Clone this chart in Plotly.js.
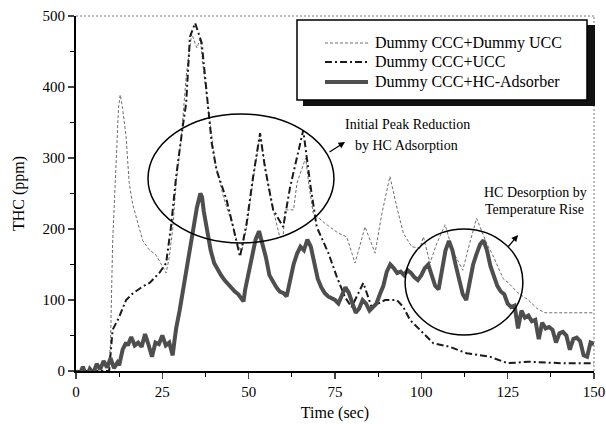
<!DOCTYPE html>
<html>
<head>
<meta charset="utf-8">
<script src="https://cdn.plot.ly/plotly-3.0.1.min.js"></script>
<style>html,body{margin:0;padding:0;background:#fff}#chart{width:606px;height:424px}</style>
</head>
<body>
<div id="chart"></div>
<script>
// Series names
var seriesNames = ["Dummy CCC+Dummy UCC", "Dummy CCC+UCC", "Dummy CCC+HC-Adsorber"];

// Dummy CCC + Dummy UCC (thin dotted)
var dummyX = [0, 5, 9, 9.5, 10, 10.6, 11.6, 12.3, 12.8, 13.5, 14.5, 15.4, 16.4, 17.4, 19.3, 21, 23.2, 25.1, 26.1, 27, 28, 29, 30.5, 32, 33.5, 35, 36, 37, 38.8, 40.3, 42.7, 45.5, 47, 48, 49.5, 51.3, 53.3, 54.7, 56.2, 59, 60, 60.5, 63, 64, 66.5, 67.5, 68.7, 72.1, 76, 78.4, 80.8, 83.7, 86.6, 88.5, 90.9, 92.9, 94.8, 97.2, 99.6, 100.6, 102.5, 104.5, 106.9, 109, 112, 114, 116, 118.9, 121, 123.7, 125, 128, 131, 133.5, 135.8, 150];
var dummyY = [0, 0, 0, 2, 40, 180, 287, 370, 389, 370, 330, 265, 235, 217, 184, 172, 163, 147, 138, 160, 200, 265, 330, 420, 475, 455, 468, 420, 349, 293, 245, 203, 175, 170, 205, 270, 332, 290, 245, 189, 190, 227, 227, 265, 300, 260, 222, 208, 194, 189, 152, 203, 166, 220, 274, 231, 194, 175, 173, 189, 152, 180, 206, 170, 142, 180, 215, 180, 160, 130, 125, 110, 100, 88, 82, 82];

// Dummy CCC + UCC (dash-dot)
var uccX = [0, 5, 9.6, 10.6, 12.5, 14.5, 16.4, 19.3, 21.3, 24.1, 26.1, 27.5, 29, 30.9, 31.9, 33, 34.5, 36.4, 37.8, 39.3, 40.7, 43.6, 45.5, 47.5, 49.4, 51.3, 53.3, 54.7, 57.1, 60, 62, 65.8, 67.8, 69.7, 73.1, 75.5, 77.9, 79.8, 83.2, 85.6, 89.5, 92.9, 94.8, 96.7, 100.6, 103.5, 108.3, 113.1, 119.9, 125, 131, 140.7, 150];
var uccY = [0, 0, 0, 58, 76, 100, 109, 119, 124, 138, 152, 203, 274, 344, 377, 471, 490, 462, 391, 321, 283, 241, 203, 161, 208, 274, 335, 287, 227, 203, 259, 339, 264, 203, 166, 133, 104, 90, 124, 90, 100, 100, 90, 72, 53, 39, 34, 25, 20, 11, 13, 11, 11];

// Dummy CCC + HC-Adsorber (noisy thick)
var hcX = [0, 1, 2, 3, 4, 5, 6, 7, 8, 9, 10, 11, 12, 12.5, 13.5, 14.5, 15, 16, 17, 18, 19, 20, 21, 22, 23, 24, 25, 26, 27, 28, 28.5, 29, 30, 31, 32, 33, 34, 35, 36, 36.5, 37, 38, 39, 40, 41, 42, 43, 44, 45, 46, 47, 48, 48.5, 49, 50, 51, 52, 53, 54, 55, 56, 57, 58, 59, 60, 61, 62, 63, 64, 65, 66, 67, 68, 69, 70, 71, 72, 73, 74, 75, 76, 77, 78, 79, 80, 81, 82, 83, 84, 85, 86, 87, 88, 89, 90, 91, 92, 93, 94, 95, 96, 97, 98, 99, 100, 101, 102, 103, 104, 105, 106, 107, 108, 109, 110, 111, 112, 113, 114, 115, 116, 117, 118, 119, 120, 121, 122, 123, 124, 125, 126, 127, 128, 129, 130, 131, 132, 133, 134, 135, 136, 137, 138, 139, 140, 141, 142, 143, 144, 145, 146, 147, 148, 149, 150];
var hcY = [0, -5, 6, -8, 3, -3, 10, 2, 14, 5, 18, 4, 12, 8, 30, 40, 36, 48, 36, 40, 34, 52, 37, 20, 40, 38, 50, 36, 40, 22, 42, 60, 85, 115, 145, 175, 205, 230, 250, 245, 225, 195, 170, 152, 142, 135, 128, 122, 118, 112, 108, 100, 98, 115, 140, 160, 185, 197, 180, 160, 135, 125, 118, 112, 110, 105, 130, 150, 165, 175, 170, 185, 175, 155, 130, 118, 110, 105, 102, 100, 95, 105, 118, 110, 95, 82, 88, 100, 95, 85, 90, 95, 108, 120, 140, 150, 145, 138, 140, 135, 142, 138, 132, 128, 135, 145, 150, 135, 120, 115, 140, 170, 183, 170, 148, 125, 108, 100, 125, 150, 165, 178, 184, 170, 148, 135, 120, 112, 108, 95, 90, 92, 60, 85, 75, 78, 70, 72, 45, 68, 60, 62, 58, 40, 53, 55, 50, 30, 45, 47, 42, 22, 20, 40, 38];

// Axis ticks
var xTicks = [0, 25, 50, 75, 100, 125, 150];
var yTicks = [0, 100, 200, 300, 400, 500];

var serif = "'Liberation Serif', 'Times New Roman', serif";

var lineStyles = [
  {color: "#6e6e6e", width: 1, dash: "3px,2px"},
  {color: "#1a1a1a", width: 2, dash: "7px,3px,2px,3px"},
  {color: "#4e4e4e", width: 4}
];

var traces = [
  {x: dummyX, y: dummyY, name: seriesNames[0], type: "scatter", mode: "lines", line: lineStyles[0]},
  {x: uccX, y: uccY, name: seriesNames[1], type: "scatter", mode: "lines", line: lineStyles[1]},
  {x: hcX, y: hcY, name: seriesNames[2], type: "scatter", mode: "lines", line: lineStyles[2]}
];

function px2paperX(p) { return (p - 76) / 518; }
function px2paperY(p) { return (371 - p) / 355; }

var shapes = [
  // dotted top and right frame
  {type: "line", xref: "paper", yref: "paper", x0: 0, x1: 1, y0: 1, y1: 1,
   line: {color: "#777", width: 1, dash: "2px,2px"}},
  {type: "line", xref: "paper", yref: "paper", x0: 1, x1: 1, y0: 0, y1: 1,
   line: {color: "#777", width: 1, dash: "2px,2px"}},
  // legend shadow
  {type: "rect", xref: "paper", yref: "paper", layer: "above",
   x0: px2paperX(303), x1: px2paperX(595), y0: px2paperY(106), y1: px2paperY(25),
   fillcolor: "#111", line: {width: 0}},
  // legend box
  {type: "rect", xref: "paper", yref: "paper", layer: "above",
   x0: px2paperX(297), x1: px2paperX(587), y0: px2paperY(100), y1: px2paperY(20),
   fillcolor: "#fff", line: {color: "#000", width: 1.5}},
  // ellipses
  {type: "circle", xref: "x", yref: "y", x0: 20.85, x1: 74.7, y0: 180.3, y1: 362,
   line: {color: "#000", width: 1.5}},
  {type: "circle", xref: "x", yref: "y", x0: 95.3, x1: 129.4, y0: 50.7, y1: 200,
   line: {color: "#000", width: 1.5}}
];

var annotations = [
  {x: 77.9, y: 322.5, xref: "x", yref: "y", text: "", showarrow: true, arrowhead: 2,
   arrowsize: 1, arrowwidth: 1.3, ax: -17, ay: 11, arrowcolor: "#000"},
  {x: 128.0, y: 191.5, xref: "x", yref: "y", text: "", showarrow: true, arrowhead: 2,
   arrowsize: 1, arrowwidth: 1.3, ax: -11, ay: 13, arrowcolor: "#000"},
  {x: 96.0, y: 346.5, xref: "x", yref: "y", text: "Initial Peak Reduction",
   showarrow: false, font: {family: serif, size: 14, color: "#000"}},
  {x: 95.8, y: 318.3, xref: "x", yref: "y", text: "by HC Adsorption",
   showarrow: false, font: {family: serif, size: 14, color: "#000"}},
  {x: 133.1, y: 252.1, xref: "x", yref: "y", text: "HC Desorption by",
   showarrow: false, font: {family: serif, size: 14, color: "#000"}},
  {x: 132.9, y: 226.8, xref: "x", yref: "y", text: "Temperature Rise",
   showarrow: false, font: {family: serif, size: 14, color: "#000"}}
];

// hand-drawn legend (box, samples, labels)
var legendRows = [43, 62, 82];
for (var i = 0; i < 3; i++) {
  shapes.push({type: "line", xref: "paper", yref: "paper", layer: "above",
    x0: px2paperX(325), x1: px2paperX(368), y0: px2paperY(legendRows[i]), y1: px2paperY(legendRows[i]),
    line: lineStyles[i]});
  annotations.push({xref: "paper", yref: "paper", x: px2paperX(373), y: px2paperY(legendRows[i]),
    xanchor: "left", yanchor: "middle", text: seriesNames[i], showarrow: false,
    font: {family: serif, size: 16, color: "#000"}});
}

var layout = {
  width: 606, height: 424,
  margin: {l: 76, r: 12, t: 16, b: 53},
  paper_bgcolor: "#fff", plot_bgcolor: "#fff",
  font: {family: serif, size: 15, color: "#000"},
  showlegend: false,
  xaxis: {
    range: [0, 150], tickvals: xTicks, ticks: "outside", ticklen: 6, tickwidth: 1.5,
    showline: true, linecolor: "#000", linewidth: 2, showgrid: false, zeroline: false,
    tickfont: {family: serif, size: 15, color: "#000"},
    minor: {dtick: 12.5, ticks: "outside", ticklen: 4, tickwidth: 1, tickcolor: "#000"},
    title: {text: "Time (sec)", font: {family: serif, size: 16, color: "#000"}, standoff: 8}
  },
  yaxis: {
    range: [0, 500], tickvals: yTicks, ticks: "outside", ticklen: 6, tickwidth: 1.5,
    showline: true, linecolor: "#000", linewidth: 2, showgrid: false, zeroline: false,
    tickfont: {family: serif, size: 15, color: "#000"},
    minor: {dtick: 50, ticks: "outside", ticklen: 4, tickwidth: 1, tickcolor: "#000"},
    title: {text: "THC (ppm)", font: {family: serif, size: 16, color: "#000"}, standoff: 14}
  },
  shapes: shapes,
  annotations: annotations
};

Plotly.newPlot("chart", traces, layout, {displayModeBar: false, staticPlot: true});
</script>
</body>
</html>
